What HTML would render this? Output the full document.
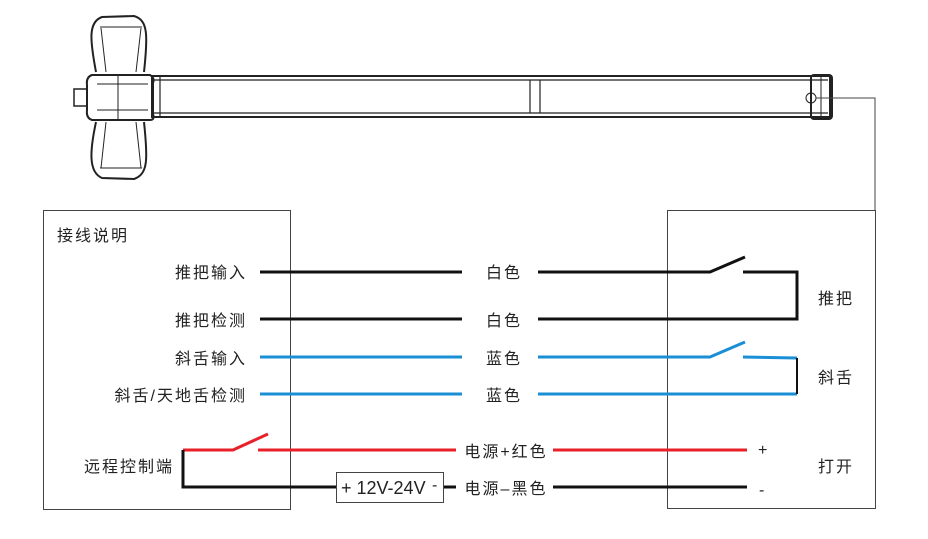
<!DOCTYPE html>
<html><head><meta charset="utf-8"><style>
body{margin:0;background:#fff}
svg{display:block}
text{font-family:"Liberation Sans","Noto Sans CJK SC",sans-serif;font-size:16px;fill:#222;letter-spacing:2px}
</style></head><body>
<svg width="928" height="539" viewBox="0 0 928 539" xmlns="http://www.w3.org/2000/svg">
<g fill="none" stroke="#222">
<path d="M96 72 C90 40 88 22 102 17 L134 16 C148 20 148 35 144 72 M96 122 C90 150 88 172 102 178 L134 179 C148 174 148 160 144 122" stroke-width="2"/>
<path d="M100 27 L142 27 M100 168 L142 168 M101 28 L106 72 M141 28 L136 72 M101 168 L106 122 M141 168 L136 122" stroke-width="1"/>
<path d="M92 75 L150 75 Q155 78 153 83 L153 114 Q155 120 150 120 L92 120 Q86 118 87 110 L87 85 Q86 77 92 75Z" stroke-width="2"/>
<path d="M97 84 L148 84 M97 110 L148 110 M118 75 L118 120" stroke-width="1"/>
<rect x="74" y="89" width="13" height="17" stroke-width="1.5"/>
<rect x="152" y="76" width="678" height="41" stroke-width="2"/>
<path d="M153 80 L828 80 M153 113 L828 113 M160 76 L160 117 M530 80 L530 113 M540 80 L540 113" stroke-width="1.2"/>
<rect x="811" y="75" width="21" height="44" rx="3" stroke-width="2"/>
<path d="M821 76 L821 118" stroke-width="1"/>
<circle cx="811" cy="98" r="5" stroke-width="1"/>
<path d="M816 98 L875 98 L875 210" stroke-width="1" stroke="#444"/>
</g>
<rect x="43.5" y="210.5" width="247" height="299" fill="none" stroke="#444"/>
<rect x="667.5" y="210.5" width="208" height="298" fill="none" stroke="#444"/>
<text x="57" y="241">接线说明</text>
<g text-anchor="end">
<text x="247" y="278">推把输入</text>
<text x="247" y="326">推把检测</text>
<text x="247" y="364">斜舌输入</text>
<text x="247" y="401">斜舌/天地舌检测</text>
<text x="174" y="472">远程控制端</text>
</g>
<g text-anchor="middle">
<text x="504" y="278">白色</text>
<text x="504" y="326">白色</text>
<text x="504" y="364">蓝色</text>
<text x="504" y="401">蓝色</text>
<text x="506" y="457">电源+红色</text>
<text x="506" y="494">电源–黑色</text>
<text x="836" y="304">推把</text>
<text x="836" y="383">斜舌</text>
<text x="836" y="472">打开</text>
</g>
<text x="758" y="455">+</text>
<text x="759" y="495">-</text>
<g fill="none" stroke-width="3">
<path d="M260 272 L462 272 M538 272 L710 272 L745 257 M743 272 L797 272 L797 319 L538 319 M260 319 L462 319" stroke="#111"/>
<path d="M260 357 L462 357 M538 357 L710 357 L745 342 M743 357 L797 358 M538 394 L797 394 M260 394 L462 394" stroke="#1a8fd6"/>
<path d="M797 358 L797 394" stroke="#111" stroke-width="2"/>
<path d="M183 450 L233 450 L268 434 M258 450 L456 450 M553 450 L747 450" stroke="#e8202a"/>
<path d="M183 450 L183 487 L337 487 M443 487 L456 487 M553 487 L747 487" stroke="#111"/>
</g>
<rect x="336.5" y="472.5" width="107" height="30" fill="#fff" stroke="#444"/>
<text x="341" y="494" style="font-size:18px;letter-spacing:0">+ 12V-24V</text>
<text x="432" y="490" style="font-size:16px">-</text>
</svg>
</body></html>
